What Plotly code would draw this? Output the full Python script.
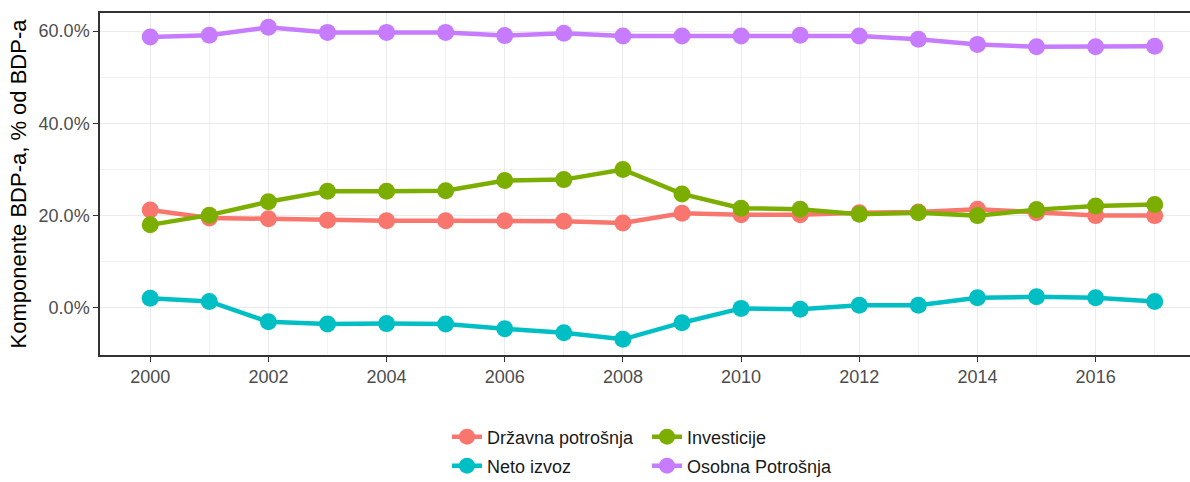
import plotly.graph_objects as go

years = list(range(2000, 2018))
drzavna = [21.2, 19.5, 19.3, 19.0, 18.9, 18.9, 18.9, 18.8, 18.4, 20.5, 20.2, 20.2, 20.6, 20.8, 21.4, 20.6, 20.0, 20.0]
investicije = [18.0, 20.1, 23.0, 25.3, 25.3, 25.4, 27.6, 27.8, 30.0, 24.7, 21.6, 21.4, 20.3, 20.6, 20.0, 21.3, 22.1, 22.4]
neto_izvoz = [2.1, 1.4, -3.0, -3.5, -3.4, -3.5, -4.5, -5.4, -6.8, -3.2, -0.1, -0.3, 0.6, 0.6, 2.2, 2.4, 2.2, 1.4]
osobna = [58.7, 59.1, 60.8, 59.7, 59.7, 59.7, 59.0, 59.5, 58.9, 58.9, 58.9, 59.1, 58.9, 58.2, 57.1, 56.6, 56.6, 56.7]

names = ["Državna potrošnja", "Investicije", "Neto izvoz", "Osobna Potrošnja"]
colors = ["#F8766D", "#7CAE00", "#00BFC4", "#C77CFF"]
series = [drzavna, investicije, neto_izvoz, osobna]
legends = ["legend", "legend", "legend2", "legend2"]

x_ticks = list(range(2000, 2017, 2))
y_ticks = [0, 20, 40, 60]
y_ticktext = ["0.0%", "20.0%", "40.0%", "60.0%"]

fig = go.Figure()
for n, c, s, lg in zip(names, colors, series, legends):
    fig.add_trace(go.Scatter(
        x=years, y=s, name=n, mode="lines+markers",
        line=dict(color=c, width=4.5),
        marker=dict(color=c, size=17),
        legend=lg,
    ))

W, H = 1190, 482
L, R, T, B = 100, 0, 13, 127
ph = H - T - B
pw = W - L - R

FONT = "Liberation Sans, Arial, sans-serif"

legend_common = dict(
    orientation="h", xanchor="left", yanchor="middle",
    font=dict(family=FONT, size=18, color="#1a1a1a"),
    bgcolor="rgba(0,0,0,0)", entrywidth=155, entrywidthmode="pixels",
    itemwidth=30, tracegroupgap=0,
)

fig.update_layout(
    width=W, height=H,
    margin=dict(l=L, r=R, t=T, b=B, autoexpand=False),
    paper_bgcolor="white", plot_bgcolor="white",
    font=dict(family=FONT, size=18, color="#4d4d4d"),
    showlegend=True,
    legend=dict(x=(447 - L) / pw, y=(T + ph - 437) / ph, **legend_common),
    legend2=dict(x=(447 - L) / pw, y=(T + ph - 466) / ph, **legend_common),
    xaxis=dict(
        range=[1999.15, 2000 + (W - R - 150) / 59.1],
        tickvals=x_ticks, ticktext=[str(v) for v in x_ticks],
        showgrid=True, gridcolor="#ebebeb", gridwidth=1.2,
        minor=dict(dtick=1, tick0=2001, showgrid=True, gridcolor="#f2f2f2", gridwidth=0.8, ticks=""),
        showline=True, linecolor="#333333", linewidth=1.5, mirror=True,
        ticks="outside", ticklen=5, tickcolor="#333333",
        tickfont=dict(family=FONT, size=18, color="#4d4d4d"),
        zeroline=False, automargin=False,
    ),
    yaxis=dict(
        range=[-10.2, 63.9],
        tickvals=y_ticks, ticktext=y_ticktext,
        showgrid=True, gridcolor="#ebebeb", gridwidth=1.2,
        minor=dict(tickvals=[10, 30, 50], showgrid=True, gridcolor="#f2f2f2", gridwidth=0.8, ticks=""),
        showline=True, linecolor="#333333", linewidth=1.5, mirror=False,
        ticks="outside", ticklen=5, tickcolor="#333333",
        tickfont=dict(family=FONT, size=18, color="#4d4d4d"),
        title=dict(text="Komponente BDP-a, % od BDP-a", font=dict(family=FONT, size=22, color="#000000"), standoff=6),
        zeroline=False, automargin=False,
    ),
)

fig.write_html(
    "out.html",
    config={"displayModeBar": False},
    post_script="document.body.style.margin='0px'; document.body.style.overflow='hidden';",
)
